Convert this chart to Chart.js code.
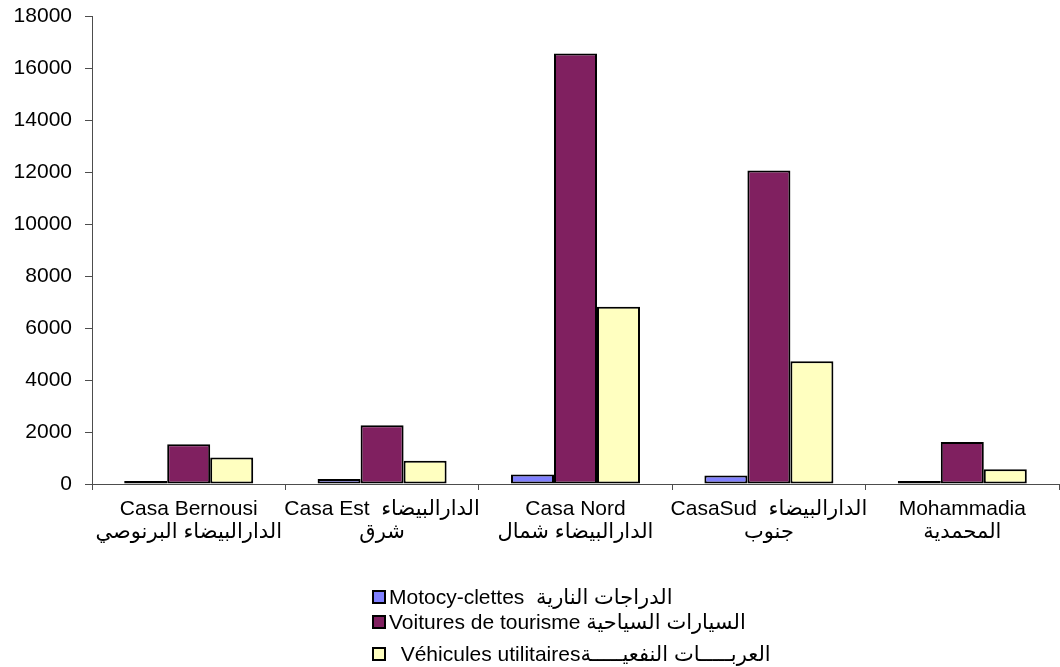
<!DOCTYPE html>
<html>
<head>
<meta charset="utf-8">
<script src="https://cdn.jsdelivr.net/npm/chart.js@4/dist/chart.umd.min.js"></script>
<style>
  html, body { margin: 0; padding: 0; background: #fff; }
  #wrap { position: relative; width: 1060px; height: 667px; overflow: hidden; }
  #legend { position: absolute; left: 0; top: 0; font-family: "Liberation Sans", "DejaVu Sans", Arial, sans-serif; font-size: 21px; color: #000; }
  .row { position: absolute; left: 372px; height: 26px; display: flex; align-items: center; white-space: pre; direction: ltr; }
  .box { width: 10px; height: 10px; border: 2px solid #000; margin-right: 3px; box-sizing: content-box; flex: none; }
</style>
</head>
<body>
<div id="wrap">
  <canvas id="c" width="1060" height="667"></canvas>
  <div id="legend"></div>
</div>
<script>
const categories = [
  ["Casa Bernousi", "الدارالبيضاء البرنوصي"],
  ["Casa Est  الدارالبيضاء", "شرق"],
  ["Casa Nord", "الدارالبيضاء شمال"],
  ["CasaSud  الدارالبيضاء", "جنوب"],
  ["Mohammadia", "المحمدية"]
];
const seriesNames = [
  "Motocy-clettes  الدراجات النارية",
  "Voitures de tourisme السيارات السياحية",
  "  Véhicules utilitairesالعربـــــات النفعيـــــة"
];
const motocyclettes = [25, 190, 370, 330, 25];
const voituresTourisme = [1530, 2260, 16560, 12060, 1620];
const vehiculesUtilitaires = [1020, 890, 6820, 4720, 570];
const yTicks = [0, 2000, 4000, 6000, 8000, 10000, 12000, 14000, 16000, 18000];

const colors = ["#8080FF", "#802060", "#FFFFC0"];
const legendRowTops = [584, 609, 641];
const FONT = '"Liberation Sans", "DejaVu Sans", Arial, sans-serif';
Chart.defaults.font.family = FONT;
Chart.defaults.color = "#000";

const seriesValues = [motocyclettes, voituresTourisme, vehiculesUtilitaires];
const chart = new Chart(document.getElementById("c"), {
  type: "bar",
  data: {
    labels: categories,
    datasets: seriesValues.map((vals, i) => ({
      label: seriesNames[i],
      data: vals,
      backgroundColor: colors[i],
      borderColor: "#000",
      borderWidth: 2,
      borderSkipped: false,
      minBarLength: 3,
      categoryPercentage: 0.667,
      barPercentage: 1.0
    }))
  },
  options: {
    responsive: false,
    animation: false,
    layout: { padding: { top: 16, right: 1, left: 0, bottom: 0 } },
    plugins: { legend: { display: false }, tooltip: { enabled: false } },
    scales: {
      x: {
        offset: true,
        grid: { display: true, drawOnChartArea: false, drawTicks: true, tickLength: 6, color: "#4d4d4d", offset: true },
        border: { display: true, color: "#4d4d4d", width: 1 },
        ticks: { font: { size: 21, lineHeight: 1.1 }, padding: 8, maxRotation: 0, autoSkip: false, color: "#000" },
        afterFit: (s) => { s.height = 183; s.paddingLeft = 0; s.paddingRight = 0; }
      },
      y: {
        min: 0, max: 18000,
        afterBuildTicks: (s) => { s.ticks = yTicks.map(v => ({ value: v })); },
        grid: { display: true, drawOnChartArea: false, drawTicks: true, tickLength: 7, color: "#4d4d4d" },
        border: { display: true, color: "#4d4d4d", width: 1 },
        ticks: { font: { size: 21 }, padding: 13, color: "#000", callback: (v) => String(v) },
        afterFit: (s) => { s.width = 92; s.paddingTop = 0; s.paddingBottom = 0; }
      }
    }
  }
});

const legend = document.getElementById("legend");
chart.data.datasets.forEach((ds, i) => {
  const row = document.createElement("div");
  row.className = "row";
  row.style.top = legendRowTops[i] + "px";
  const box = document.createElement("span");
  box.className = "box";
  box.style.background = ds.backgroundColor;
  const txt = document.createElement("span");
  txt.textContent = ds.label;
  row.appendChild(box);
  row.appendChild(txt);
  legend.appendChild(row);
});
</script>
</body>
</html>
